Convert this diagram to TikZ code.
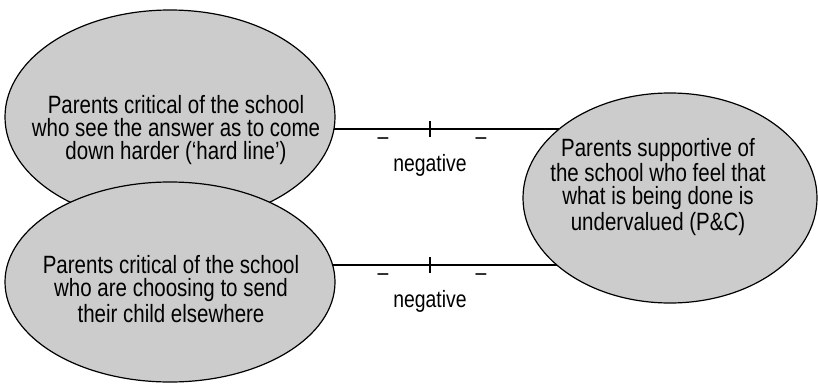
\documentclass[tikz,border=0pt]{standalone}
\usepackage{fontspec}
\setmainfont{Liberation Sans}[FakeStretch=0.82]
\usetikzlibrary{shapes.geometric,backgrounds}

\tikzset{
  blob/.style={ellipse, draw=black, line width=0.6pt, fill=black!20, inner sep=0pt},
  blobtext/.style={align=center, font=\fontsize{12.5}{11.5}\selectfont},
  tie/.style={line width=0.6pt},
  sign/.style={font=\fontsize{11.8}{13}\selectfont, inner sep=1pt}
}

\begin{document}
\begin{tikzpicture}[x=0.5pt,y=-0.5pt]
        \useasboundingbox (0,0) rectangle (818,385);

        % the three groups of parents
        \node[blob, minimum width=165pt, minimum height=107pt] (hard) at (170,117) {};
        \node[blob, minimum width=165pt, minimum height=100pt] (leave) at (170,282) {};
        \node[blob, minimum width=147pt, minimum height=105pt] (pc) at (670,198) {};

        \node[blobtext] (hardtext) at (176,130) {Parents critical of the school\\who see the answer as to come\\down harder (`hard line')};
        \node[blobtext] (leavetext) at (171,289) {Parents critical of the school\\who are choosing to send\\their child elsewhere};
        \node[blobtext] (pctext) at (658,187) {Parents supportive of\\the school who feel that\\what is being done is\\undervalued (P\&C)};

        % links, both negative
        \foreach \y/\a in {129/hard, 265/leave} {
            \begin{scope}[on background layer]
                \draw[tie] (\a.center |- 0,\y) -- (pc.center |- 0,\y);
            \end{scope}
            \draw[tie] (430,\y-8) -- (430,\y+8);
            \node[sign] (lm\a) at (383,\y+12) {--};
            \node[sign] (rm\a) at (481,\y+12) {--};
            \node[sign] (neg\a) at (430,\y+36) {negative};
        }
    \end{tikzpicture}
\end{document}
